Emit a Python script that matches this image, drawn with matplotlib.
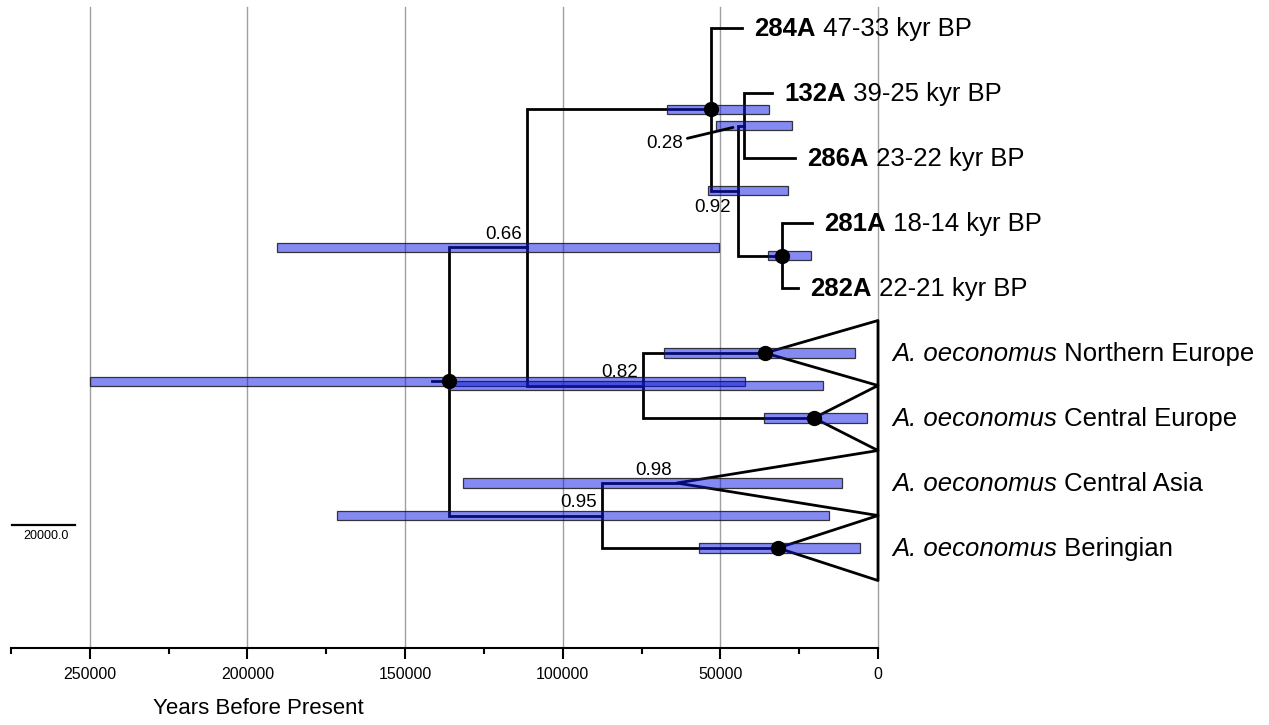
import matplotlib
matplotlib.use("Agg")
import matplotlib.pyplot as plt
from matplotlib.patches import Polygon
from matplotlib.ticker import MultipleLocator, FormatStrFormatter

plt.rcParams['font.family'] = ['Liberation Sans', 'DejaVu Sans']

# ancient samples (tips), row 0 is the top row
tip_names = ["284A", "132A", "286A", "281A", "282A"]
tip_ranges = ["47-33", "39-25", "23-22", "18-14", "22-21"]
tip_ages = [43100, 33600, 26300, 20900, 25400]
tip_rows = [0, 1, 2, 3, 4]

# collapsed clades (triangles)
clade_names = ["Northern Europe", "Central Europe", "Central Asia", "Beringian"]
clade_rows = [5, 6, 7, 8]
clade_ages = [35800, 20300, 63800, 31700]
clade_hpd_lo = [7300, 3500, 11400, 5700]
clade_hpd_hi = [67900, 36200, 131700, 56800]
clade_support = [1.0, 1.0, 0.98, 1.0]

# internal nodes
node_ids = ["root", "n066", "n284", "n092", "n028", "n281", "n082", "n095"]
node_ages = [136100, 111400, 53000, 44400, 42500, 30500, 74600, 87600]
node_children = [["n066", "n095"], ["n284", "n082"], ["284A", "n092"],
                 ["n028", "n281"], ["132A", "286A"], ["281A", "282A"],
                 ["Northern Europe", "Central Europe"],
                 ["Central Asia", "Beringian"]]
node_hpd_lo = [42200, 50400, 34600, 28600, 27300, 21300, 17400, 15500]
node_hpd_hi = [250000, 190700, 66900, 53900, 51400, 34900, 136400, 171600]
node_support = [1.0, 0.66, 1.0, 0.92, 0.28, 1.0, 0.82, 0.95]
root_stub_age = 141500

scale_len = 20000

# ages and rows for every name
age = dict(zip(tip_names, tip_ages))
age.update(zip(clade_names, clade_ages))
age.update(zip(node_ids, node_ages))
row = dict(zip(tip_names, tip_rows))
row.update(zip(clade_names, clade_rows))
children = dict(zip(node_ids, node_children))


def node_row(name):
    # node sits halfway between its children
    if name not in row:
        kids = children[name]
        row[name] = 0.5 * (node_row(kids[0]) + node_row(kids[1]))
    return row[name]


node_row("root")

fig = plt.figure(figsize=(12.69, 7.25), dpi=100)
ax = fig.add_axes([11 / 1269, 1 - 648 / 725, 867 / 1269, 641 / 725])
ax.set_xlim(275000, 0)
ax.set_ylim(9.538, -0.323)

# tree branches
ax.plot([root_stub_age, age["root"]], [row["root"], row["root"]],
        color='black', lw=2, zorder=2)
for n in node_ids:
    for c in children[n]:
        ax.plot([age[n], age[n], age[c]], [row[n], row[c], row[c]],
                color='black', lw=2, zorder=2, solid_joinstyle='miter',
                solid_capstyle='projecting')

# collapsed clades
for name, a, r in zip(clade_names, clade_ages, clade_rows):
    tri = Polygon([(a, r), (0, r - 0.5), (0, r + 0.5)], closed=True,
                  fill=False, edgecolor='black', lw=2, joinstyle='round',
                  clip_on=False, zorder=2)
    ax.add_patch(tri)

# 95% HPD bars
bar_face = (0.05, 0.08, 0.9, 0.5)
bar_edge = (0.1, 0.1, 0.1, 0.85)
all_lo = node_hpd_lo + clade_hpd_lo
all_hi = node_hpd_hi + clade_hpd_hi
all_rows = [row[n] for n in node_ids] + clade_rows
ax.barh(all_rows, [h - l for l, h in zip(all_lo, all_hi)], left=all_lo,
        height=0.14, color=bar_face, edgecolor=bar_edge, linewidth=0.9,
        zorder=3)

# fully supported nodes
full_names = [n for n, s in zip(node_ids, node_support) if s == 1.0]
full_names += [n for n, s in zip(clade_names, clade_support) if s == 1.0]
ax.plot([age[n] for n in full_names], [row[n] for n in full_names], 'o',
        color='black', markersize=10, zorder=5)

# posterior labels
label_fs = 13.5
for n, s in list(zip(node_ids, node_support)) + list(zip(clade_names, clade_support)):
    if s == 1.0 or n in ("n092", "n028"):
        continue
    ax.annotate("%.2f" % s, xy=(age[n], row[n]), xytext=(-3.5, 6),
                textcoords='offset points', ha='right', va='baseline',
                fontsize=label_fs, zorder=6)
ax.annotate("0.92", xy=(age["n092"], row["n092"]), xytext=(-18, -12),
            textcoords='offset points', ha='center', va='center',
            fontsize=label_fs, zorder=6)
ax.annotate("0.28", xy=(46000, row["n028"] + 0.03), xytext=(67600, 1.78),
            textcoords='data', ha='center', va='center', fontsize=label_fs,
            arrowprops=dict(arrowstyle='-', lw=2, color='black',
                            shrinkA=1, shrinkB=0), zorder=6)

# tip labels: bold sample name followed by the dating
for name, rng, a, r in zip(tip_names, tip_ranges, tip_ages, tip_rows):
    t1 = ax.annotate(name, xy=(a, r), xytext=(9, -0.5),
                     textcoords='offset points', ha='left', va='center',
                     fontsize=18.5, fontweight='bold', annotation_clip=False)
    ax.annotate(" %s kyr BP" % rng, xy=(1, 0.5), xycoords=t1, ha='left',
                va='center', fontsize=18.5)
for name, r in zip(clade_names, clade_rows):
    t1 = ax.annotate("A. oeconomus", xy=(0, r), xytext=(10, -0.5),
                     textcoords='offset points', ha='left', va='center',
                     fontsize=18.5, style='italic', annotation_clip=False)
    ax.annotate(" " + name, xy=(1, 0.5), xycoords=t1, ha='left',
                va='center', fontsize=18.5)

# scale bar
sb_x = 274700
sb_y = 7.65
ax.plot([sb_x, sb_x - scale_len], [sb_y, sb_y], color='black', lw=1.6,
        clip_on=False)
ax.annotate("%.1f" % scale_len, xy=(sb_x - scale_len / 2, sb_y),
            xytext=(1.5, -7.5), textcoords='offset points', ha='center',
            va='center', fontsize=9)

# axis
for side in ["left", "top", "right"]:
    ax.spines[side].set_visible(False)
ax.spines["bottom"].set_linewidth(1.5)
ax.set_yticks([])
ax.xaxis.set_major_locator(MultipleLocator(50000))
ax.xaxis.set_minor_locator(MultipleLocator(25000))
ax.xaxis.set_major_formatter(FormatStrFormatter('%d'))
ax.tick_params(axis='x', which='major', length=8, width=1.5, labelsize=11.5,
               pad=6)
ax.tick_params(axis='x', which='minor', length=4, width=1.5)
ax.grid(axis='x', which='major', color='#a0a0a0', lw=1.0)
for gl in ax.get_xgridlines():
    gl.set_clip_on(False)
ax.set_axisbelow(True)
ax.set_xlabel("Years Before Present", fontsize=16)
ax.xaxis.set_label_coords((258 - 11) / 867, -0.078)

fig.savefig("out.png", dpi=100)
